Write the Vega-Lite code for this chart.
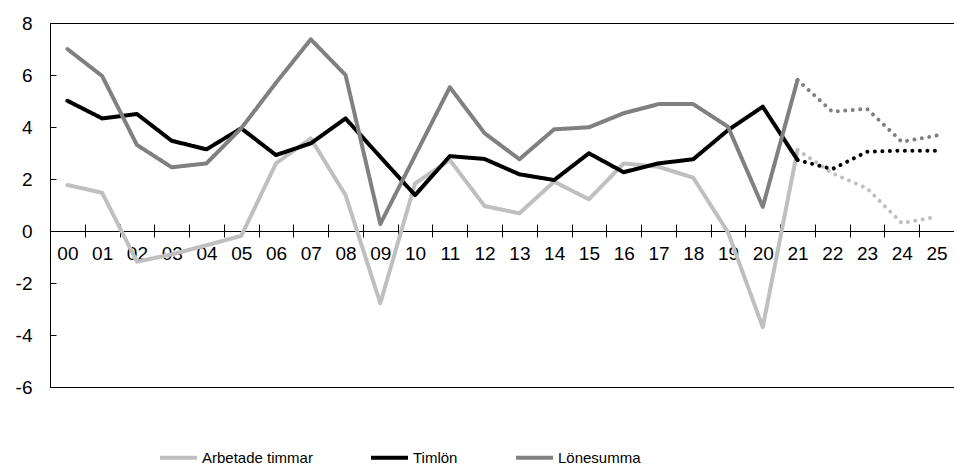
{
  "$schema": "https://vega.github.io/schema/vega-lite/v6.json",
  "width": 904,
  "height": 364,
  "autosize": {"type": "none"},
  "padding": {"left": 50, "top": 23, "right": 0, "bottom": 83},
  "config": {
    "font": "Liberation Sans",
    "view": {"stroke": "#000", "strokeWidth": 1},
    "axis": {"labelFont": "Liberation Sans", "labelColor": "#000", "labelFontSize": 19, "domainColor": "#000", "tickColor": "#000", "grid": false, "title": null}
  },
  "data": {"values": [
    {"yr":"00","s":"Arbetade timmar","seg":"a","v":1.77},
    {"yr":"01","s":"Arbetade timmar","seg":"a","v":1.47},
    {"yr":"02","s":"Arbetade timmar","seg":"a","v":-1.18},
    {"yr":"03","s":"Arbetade timmar","seg":"a","v":-0.9},
    {"yr":"04","s":"Arbetade timmar","seg":"a","v":-0.55},
    {"yr":"05","s":"Arbetade timmar","seg":"a","v":-0.19},
    {"yr":"06","s":"Arbetade timmar","seg":"a","v":2.6},
    {"yr":"07","s":"Arbetade timmar","seg":"a","v":3.56},
    {"yr":"08","s":"Arbetade timmar","seg":"a","v":1.38},
    {"yr":"09","s":"Arbetade timmar","seg":"a","v":-2.78},
    {"yr":"10","s":"Arbetade timmar","seg":"a","v":1.83},
    {"yr":"11","s":"Arbetade timmar","seg":"a","v":2.73},
    {"yr":"12","s":"Arbetade timmar","seg":"a","v":0.96},
    {"yr":"13","s":"Arbetade timmar","seg":"a","v":0.68},
    {"yr":"14","s":"Arbetade timmar","seg":"a","v":1.9},
    {"yr":"15","s":"Arbetade timmar","seg":"a","v":1.22},
    {"yr":"16","s":"Arbetade timmar","seg":"a","v":2.6},
    {"yr":"17","s":"Arbetade timmar","seg":"a","v":2.47},
    {"yr":"18","s":"Arbetade timmar","seg":"a","v":2.05},
    {"yr":"19","s":"Arbetade timmar","seg":"a","v":-0.05},
    {"yr":"20","s":"Arbetade timmar","seg":"a","v":-3.7},
    {"yr":"21","s":"Arbetade timmar","seg":"a","v":3.12},
    {"yr":"21","s":"Arbetade timmar","seg":"f","v":3.12},
    {"yr":"22","s":"Arbetade timmar","seg":"f","v":2.22},
    {"yr":"23","s":"Arbetade timmar","seg":"f","v":1.64},
    {"yr":"24","s":"Arbetade timmar","seg":"f","v":0.3},
    {"yr":"25","s":"Arbetade timmar","seg":"f","v":0.55},
    {"yr":"00","s":"Timlön","seg":"a","v":5.01},
    {"yr":"01","s":"Timlön","seg":"a","v":4.33},
    {"yr":"02","s":"Timlön","seg":"a","v":4.5},
    {"yr":"03","s":"Timlön","seg":"a","v":3.47},
    {"yr":"04","s":"Timlön","seg":"a","v":3.14},
    {"yr":"05","s":"Timlön","seg":"a","v":3.95},
    {"yr":"06","s":"Timlön","seg":"a","v":2.92},
    {"yr":"07","s":"Timlön","seg":"a","v":3.37},
    {"yr":"08","s":"Timlön","seg":"a","v":4.33},
    {"yr":"09","s":"Timlön","seg":"a","v":2.85},
    {"yr":"10","s":"Timlön","seg":"a","v":1.38},
    {"yr":"11","s":"Timlön","seg":"a","v":2.88},
    {"yr":"12","s":"Timlön","seg":"a","v":2.77},
    {"yr":"13","s":"Timlön","seg":"a","v":2.18},
    {"yr":"14","s":"Timlön","seg":"a","v":1.96},
    {"yr":"15","s":"Timlön","seg":"a","v":2.99},
    {"yr":"16","s":"Timlön","seg":"a","v":2.26},
    {"yr":"17","s":"Timlön","seg":"a","v":2.6},
    {"yr":"18","s":"Timlön","seg":"a","v":2.76},
    {"yr":"19","s":"Timlön","seg":"a","v":3.88},
    {"yr":"20","s":"Timlön","seg":"a","v":4.78},
    {"yr":"21","s":"Timlön","seg":"a","v":2.73},
    {"yr":"21","s":"Timlön","seg":"f","v":2.73},
    {"yr":"22","s":"Timlön","seg":"f","v":2.38},
    {"yr":"23","s":"Timlön","seg":"f","v":3.05},
    {"yr":"24","s":"Timlön","seg":"f","v":3.09},
    {"yr":"25","s":"Timlön","seg":"f","v":3.09},
    {"yr":"00","s":"Lönesumma","seg":"a","v":7.0},
    {"yr":"01","s":"Lönesumma","seg":"a","v":5.96},
    {"yr":"02","s":"Lönesumma","seg":"a","v":3.31},
    {"yr":"03","s":"Lönesumma","seg":"a","v":2.45},
    {"yr":"04","s":"Lönesumma","seg":"a","v":2.6},
    {"yr":"05","s":"Lönesumma","seg":"a","v":3.95},
    {"yr":"06","s":"Lönesumma","seg":"a","v":5.7},
    {"yr":"07","s":"Lönesumma","seg":"a","v":7.37},
    {"yr":"08","s":"Lönesumma","seg":"a","v":6.0},
    {"yr":"09","s":"Lönesumma","seg":"a","v":0.27},
    {"yr":"10","s":"Lönesumma","seg":"a","v":2.9},
    {"yr":"11","s":"Lönesumma","seg":"a","v":5.53},
    {"yr":"12","s":"Lönesumma","seg":"a","v":3.76},
    {"yr":"13","s":"Lönesumma","seg":"a","v":2.76},
    {"yr":"14","s":"Lönesumma","seg":"a","v":3.91},
    {"yr":"15","s":"Lönesumma","seg":"a","v":3.99},
    {"yr":"16","s":"Lönesumma","seg":"a","v":4.53},
    {"yr":"17","s":"Lönesumma","seg":"a","v":4.88},
    {"yr":"18","s":"Lönesumma","seg":"a","v":4.88},
    {"yr":"19","s":"Lönesumma","seg":"a","v":4.01},
    {"yr":"20","s":"Lönesumma","seg":"a","v":0.93},
    {"yr":"21","s":"Lönesumma","seg":"a","v":5.81},
    {"yr":"21","s":"Lönesumma","seg":"f","v":5.81},
    {"yr":"22","s":"Lönesumma","seg":"f","v":4.59},
    {"yr":"23","s":"Lönesumma","seg":"f","v":4.7},
    {"yr":"24","s":"Lönesumma","seg":"f","v":3.43},
    {"yr":"25","s":"Lönesumma","seg":"f","v":3.67}
  ]},
  "layer": [
    {
      "mark": {"type": "line", "strokeWidth": 4, "strokeJoin": "round", "strokeCap": "round"},
      "encoding": {
        "x": {"field": "yr", "type": "ordinal", "scale": {"paddingInner": 0, "paddingOuter": 0},
              "axis": {"orient": "bottom", "offset": -156, "tickBand": "extent", "tickSize": 6, "labelPadding": 7, "labelAngle": 0}},
        "y": {"field": "v", "type": "quantitative", "scale": {"domain": [-6, 8], "nice": false, "zero": false},
              "axis": {"orient": "left", "values": [-6, -4, -2, 0, 2, 4, 6, 8], "ticks": false, "labelPadding": 18, "labelExpr": "'' + datum.value"}},
        "color": {"field": "s", "type": "nominal",
                  "scale": {"domain": ["Arbetade timmar", "Timlön", "Lönesumma"], "range": ["#bfbfbf", "#000000", "#808080"]},
                  "legend": {"orient": "none", "legendX": 108, "legendY": 414, "direction": "horizontal", "title": null,
                             "symbolType": "stroke", "symbolSize": 1369, "symbolStrokeWidth": 4, "labelFontSize": 15,
                             "labelOffset": 3, "columnPadding": 50, "labelColor": "#000", "labelFont": "Liberation Sans"}},
        "detail": {"field": "seg"},
        "strokeDash": {"field": "seg", "type": "nominal", "scale": {"domain": ["a", "f"], "range": [[1, 0], [0.01, 7.5]]}, "legend": null}
      }
    },
    {
      "mark": {"type": "point", "opacity": 0},
      "encoding": {
        "x": {"field": "yr", "type": "ordinal",
              "axis": {"orient": "top", "offset": -208, "tickBand": "extent", "tickSize": 7, "labels": false, "domain": false}},
        "y": {"field": "v", "type": "quantitative",
              "axis": {"orient": "right", "offset": -904, "values": [-6, -4, -2, 0, 2, 4, 6, 8], "tickSize": 6, "labels": false, "domain": false}}
      }
    }
  ],
  "resolve": {"axis": {"x": "independent", "y": "independent"}}
}
